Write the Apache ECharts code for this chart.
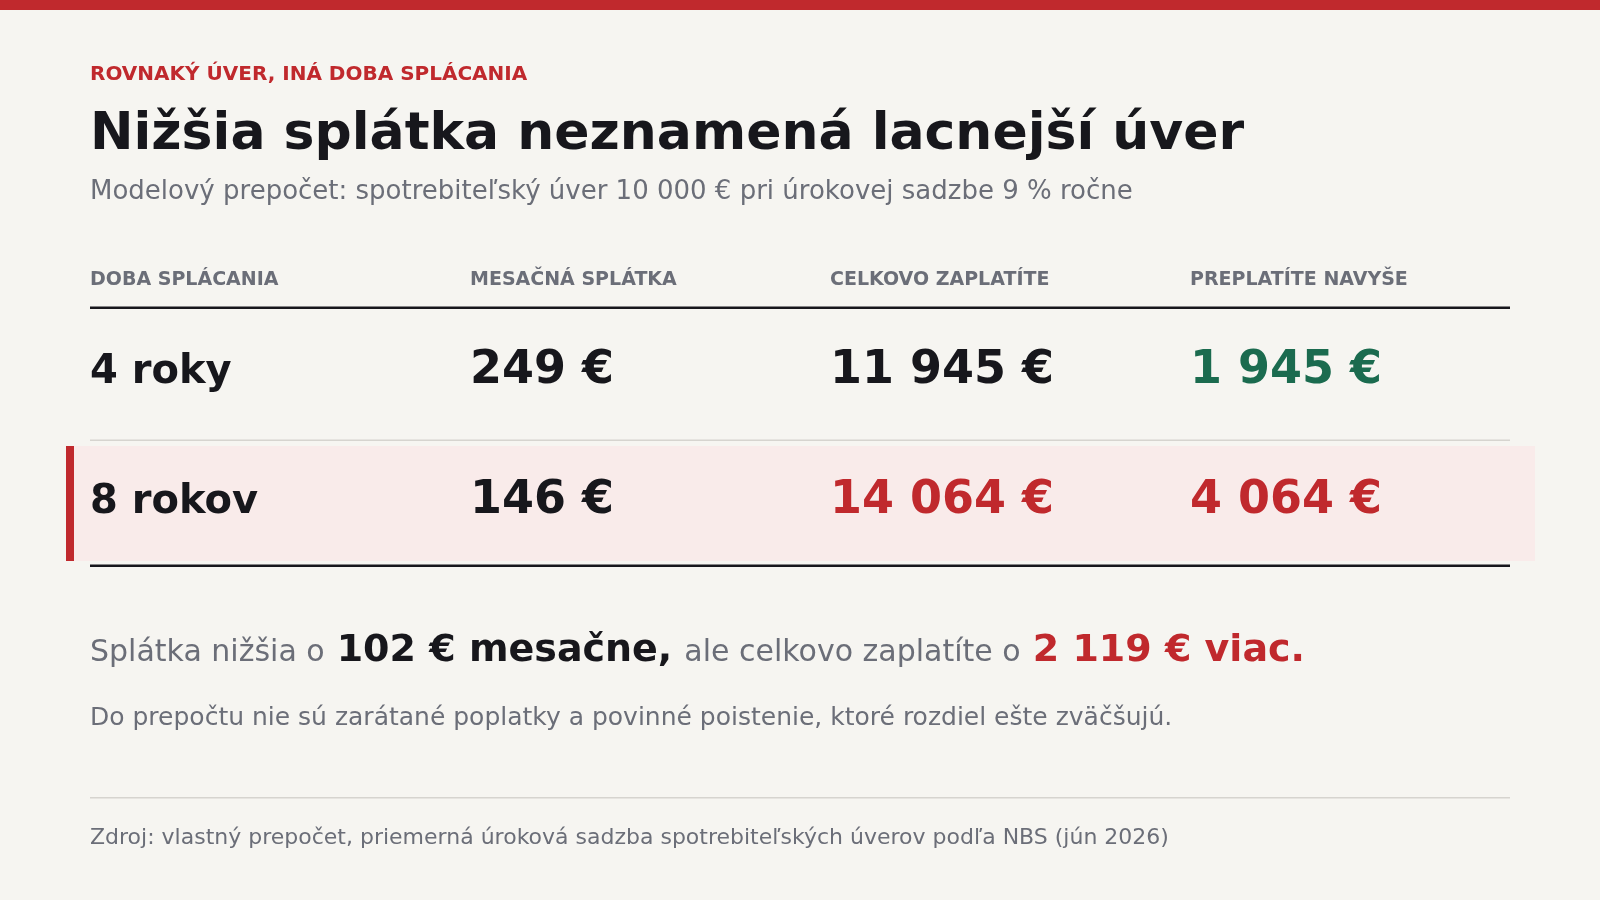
<!DOCTYPE html>
<html>
<head>
<meta charset="utf-8">
<script src="https://cdn.jsdelivr.net/npm/echarts@6/dist/echarts.min.js"></script>
<style>
html,body{margin:0;padding:0;background:#f6f5f1;}
#chart{width:1600px;height:900px;}
</style>
</head>
<body>
<div id="chart"></div>
<script>
// ---- data ----
const eyebrow = 'ROVNAKÝ ÚVER, INÁ DOBA SPLÁCANIA';
const title = 'Nižšia splátka neznamená lacnejší úver';
const subtitle = 'Modelový prepočet: spotrebiteľský úver 10 000 € pri úrokovej sadzbe 9 % ročne';
const columns = ['DOBA SPLÁCANIA', 'MESAČNÁ SPLÁTKA', 'CELKOVO ZAPLATÍTE', 'PREPLATÍTE NAVYŠE'];
const terms = ['4 roky', '8 rokov'];
const monthly = [249, 146];
const totalPaid = [11945, 14064];
const overpaid = [1945, 4064];
const monthlyDiff = 102;
const totalDiff = 2119;
const summaryParts = ['Splátka nižšia o', ' mesačne,', 'ale celkovo zaplatíte o', ' viac.'];
const footnote = 'Do prepočtu nie sú zarátané poplatky a povinné poistenie, ktoré rozdiel ešte zväčšujú.';
const source = 'Zdroj: vlastný prepočet, priemerná úroková sadzba spotrebiteľských úverov podľa NBS (jún 2026)';

// ---- style ----
const FONT = '"DejaVu Sans", "Noto Sans", sans-serif';
const RED = '#c0292d', DARK = '#17171c', GRAY = '#6b6e78', GREEN = '#1b6b4f';
const PINK = '#f9ebea', RULE = '#d6d4cf';
const L = 90, R = 1510;
const colX = [90, 470, 830, 1190];

function eur(v) {
  return String(v).replace(/\B(?=(\d{3})+(?!\d))/g, '\u00a0') + '\u00a0€';
}
// place text by alphabetic baseline (zrender uses middle baseline)
function txt(x, baseline, text, size, weight, fill) {
  return {
    type: 'text', x: x, y: baseline - size * 0.346, silent: true,
    style: { text: text, fill: fill, font: weight + ' ' + size + 'px ' + FONT,
             textAlign: 'left', textVerticalAlign: 'middle' }
  };
}
const mctx = document.createElement('canvas').getContext('2d');
function measure(text, size, weight) {
  mctx.font = weight + ' ' + size + 'px ' + FONT;
  return mctx.measureText(text).width;
}
function rect(x, y, w, h, fill) {
  return { type: 'rect', silent: true, shape: { x: x, y: y, width: w, height: h }, style: { fill: fill } };
}

const els = [];
els.push(rect(0, 0, 1600, 10, RED));
els.push(txt(L, 82, eyebrow, 20, 'bold', RED));
els.push(txt(L, 153, title, 52, 'bold', DARK));
els.push(txt(L, 201, subtitle, 26, 'normal', GRAY));
columns.forEach((c, i) => els.push(txt(colX[i], 287, c, 19, 'bold', GRAY)));
els.push(rect(L, 306.5, R - L, 2.5, DARK));
// highlighted row background
els.push(rect(74, 446, 1535 - 74, 115, PINK));
els.push(rect(66, 446, 8, 115, RED));
els.push(rect(L, 439.5, R - L, 1.5, RULE));
els.push(rect(L, 564.5, R - L, 2.5, DARK));

const rowBase = [387, 517];
terms.forEach((t, i) => {
  const hi = i === 1;
  els.push(txt(colX[0], rowBase[i] - 1, t, 40, 'bold', DARK));
  els.push(txt(colX[1], rowBase[i], eur(monthly[i]), 46, 'bold', DARK));
  els.push(txt(colX[2], rowBase[i], eur(totalPaid[i]), 46, 'bold', hi ? RED : DARK));
  els.push(txt(colX[3], rowBase[i], eur(overpaid[i]), 46, 'bold', hi ? RED : GREEN));
});

// summary line
const segs = [
  [summaryParts[0], 30, 'normal', GRAY],
  [eur(monthlyDiff) + summaryParts[1], 38, 'bold', DARK],
  [summaryParts[2], 30, 'normal', GRAY],
  [eur(totalDiff) + summaryParts[3], 38, 'bold', RED]
];
let sx = L;
segs.forEach(s => {
  els.push(txt(sx, 664, s[0], s[1], s[2], s[3]));
  sx += measure(s[0], s[1], s[2]) + 12;
});

els.push(txt(L, 727, footnote, 25, 'normal', GRAY));
els.push(rect(L, 797, R - L, 1.5, RULE));
els.push(txt(L, 846, source, 22, 'normal', GRAY));

const chart = echarts.init(document.getElementById('chart'), null, { renderer: 'canvas', width: 1600, height: 900 });
chart.setOption({
  backgroundColor: '#f6f5f1',
  animation: false,
  graphic: { elements: els }
});
</script>
</body>
</html>
